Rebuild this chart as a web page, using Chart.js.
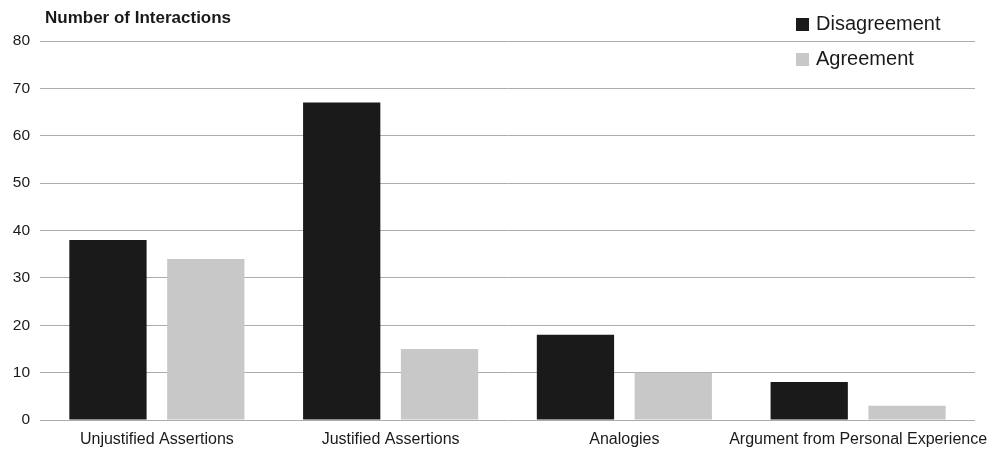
<!DOCTYPE html>
<html><head><meta charset="utf-8">
<script src="https://cdn.jsdelivr.net/npm/chart.js@4/dist/chart.umd.min.js"></script>
<style>html,body{margin:0;padding:0;background:#fff}#wrap{width:1002px;height:450px}</style>
</head><body><div id="wrap"><canvas id="c" width="1002" height="450"></canvas></div>
<script>
const categories = ["Unjustified Assertions", "Justified Assertions", "Analogies", "Argument from Personal Experience"];
const disagreement = [38, 67, 18, 8];
const agreement = [34, 15, 10, 3];
const yTicks = [0, 10, 20, 30, 40, 50, 60, 70, 80];
const yTitle = "Number of Interactions";
const FONT = "'Liberation Sans', Arial, sans-serif";

const overlay = {
  id: 'overlay',
  afterDraw(chart) {
    const ctx = chart.ctx;
    ctx.save();
    ctx.fillStyle = '#1a1a1a';
    ctx.font = 'bold 17px ' + FONT;
    ctx.textBaseline = 'middle';
    ctx.textAlign = 'left';
    ctx.fillText(yTitle, 45, 18);
    const items = chart.data.datasets;
    items.forEach((ds, i) => {
      const y = 24 + i * 35;
      ctx.fillStyle = ds.backgroundColor;
      ctx.fillRect(796, y - 6, 13, 13);
      ctx.fillStyle = '#1a1a1a';
      ctx.font = '20px ' + FONT;
      ctx.fillText(ds.label, 816, y);
    });
    ctx.restore();
  }
};

new Chart(document.getElementById('c'), {
  type: 'bar',
  data: {
    labels: categories,
    datasets: [
      { label: 'Disagreement', data: disagreement, backgroundColor: '#1a1a1a' },
      { label: 'Agreement', data: agreement, backgroundColor: '#c8c8c8' }
    ]
  },
  options: {
    responsive: false,
    animation: false,
    devicePixelRatio: 1,
    layout: { padding: { top: 41, right: 27, left: 0, bottom: 0 } },
    plugins: { legend: { display: false }, title: { display: false }, tooltip: { enabled: false } },
    datasets: { bar: { categoryPercentage: 0.837, barPercentage: 0.79 } },
    scales: {
      x: {
        grid: { display: false },
        border: { display: false },
        ticks: { color: '#1a1a1a', font: { family: FONT, size: 16 }, maxRotation: 0, autoSkip: false, padding: 2 },
        afterFit(s) { s.height = 30; }
      },
      y: {
        min: 0, max: 80,
        afterBuildTicks(s) { s.ticks = yTicks.map(v => ({ value: v })); },
        grid: { color: '#acacac', lineWidth: 1, drawTicks: false },
        border: { display: false },
        ticks: { color: '#1a1a1a', font: { family: FONT, size: 15.5 }, padding: 10 },
        afterFit(s) { s.width = 40; }
      }
    }
  },
  plugins: [overlay]
});
</script></body></html>
